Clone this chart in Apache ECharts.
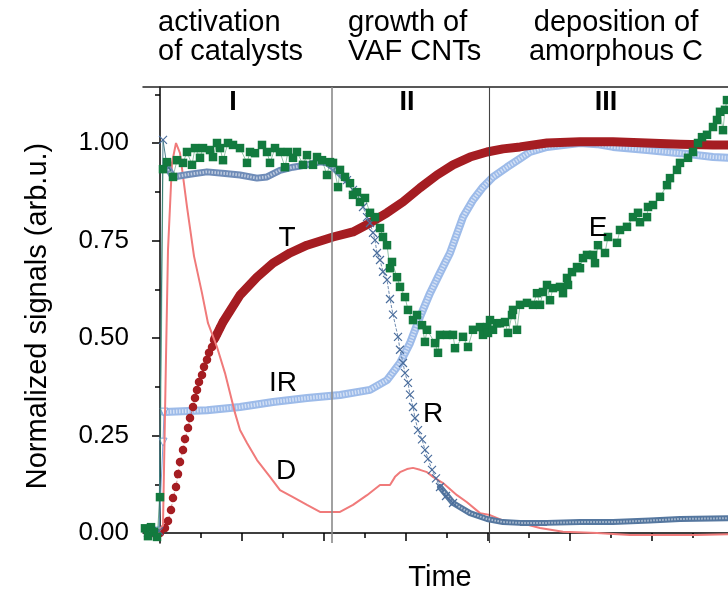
<!DOCTYPE html>
<html>
<head>
<meta charset="utf-8">
<script src="https://cdn.jsdelivr.net/npm/echarts@6/dist/echarts.min.js"></script>
<style>html,body{margin:0;padding:0;background:#fff}#c{width:728px;height:592px}</style>
</head>
<body>
<div id="c"></div>
<script>
// time in arbitrary units (no tick labels on the reference), normalized signals
// T (temperature) - early separated dots
var tDotsTime = [-8,-4,0,5,8,11,13,16,18,20,23,25,28,30,33,35,37,39,42,44,47,49,52,54,57,60,63];
var tDotsVal  = [0,0,0,.013,.031,.059,.09,.118,.151,.182,.213,.241,.269,.295,.323,.346,.367,.387,.405,.426,.444,.462,.477,.495,.51,.526,.541];
// T dense part
var tBandTime = [55,63,80,97,113,130,147,173,193,210,227,243,260,277,293,310,327,343,360,387,420,453,487,520,553,568];
var tBandVal  = [.5,.541,.61,.656,.692,.718,.738,.759,.772,.795,.821,.849,.885,.918,.944,.964,.977,.985,.99,1.0,1.003,1.003,1.0,.997,.995,.995];
// IR
var irStartTime = [-5,-1,3,4];
var irStartVal  = [0,.005,.233,.31];
var irTime = [4,47,80,113,147,180,210,227,240,250,260,270,280,290,303,313,323,333,347,360,370,387,420,437,453,487,520,553,568];
var irVal  = [.31,.315,.323,.336,.346,.354,.367,.392,.436,.487,.554,.615,.667,.718,.81,.854,.887,.913,.938,.96,.977,.99,1.0,.997,.99,.982,.974,.964,.962];
// R
var rStartTime = [-12,-8,-5,-1,3,7];
var rStartVal  = [0,0,0,.005,1.008,.94];
var rPlatTime = [7,13,30,47,65,80,97,107,120,133,147,160,167,173,187];
var rPlatVal  = [.94,.913,.92,.926,.922,.918,.91,.913,.93,.938,.944,.952,.949,.938,.905];
var rDropTime = [187,193,197,200,203,207,210,213,215,217,220,223,227,230,233,238,240,243,245,248,250,253,255,258,262,265,268,272,276,280,286,293];
var rDropVal  = [.905,.88,.872,.85,.836,.81,.795,.77,.751,.718,.7,.67,.649,.6,.56,.503,.47,.436,.41,.385,.355,.323,.295,.264,.24,.213,.19,.162,.14,.118,.095,.077];
var rTailTime = [280,293,310,327,343,360,387,420,453,490,520,568];
var rTailVal  = [.118,.077,.051,.036,.028,.026,.026,.028,.028,.032,.036,.038];
// E
var eTime = [-15,-12,-9,-6,-3,0,3,7,13,17,23,27,32,35,40,43,50,53,57,60,63,68,73,80,87,90,95,102,107,110,115,120,125,128,133,137,143,147,153,157,162,167,170,173,178,180,185,190,193,197,200,205,210,215,220,223,227,230,232,237,240,245,248,253,257,262,265,267,275,278,280,287,293,295,303,308,313,320,323,327,328,330,333,337,340,345,348,352,353,357,360,367,373,377,380,383,387,390,393,400,403,407,408,412,417,420,423,427,433,435,438,445,448,457,460,467,473,478,480,487,488,493,500,507,510,517,520,528,533,538,542,547,553,557,560,563,565,567];
var eVal  = [.012,-.008,.015,.003,-.01,.092,.933,.951,.913,.956,.949,.977,.944,.987,.962,.987,.982,.964,1.0,.987,.956,1.0,.995,.987,.949,.977,.974,.995,.977,.949,.987,.977,.938,.977,.962,.977,.944,.969,.944,.964,.956,.918,.951,.949,.887,.931,.913,.897,.867,.874,.849,.859,.821,.81,.782,.759,.738,.679,.695,.656,.631,.605,.572,.546,.559,.533,.49,.521,.487,.462,.508,.508,.508,.474,.503,.477,.521,.528,.508,.528,.513,.546,.521,.538,.538,.541,.513,.559,.572,.521,.585,.59,.585,.615,.585,.618,.636,.597,.628,.631,.615,.654,.636,.669,.682,.679,.705,.713,.713,.692,.738,.718,.759,.744,.777,.785,.81,.821,.797,.81,.836,.841,.862,.892,.91,.931,.949,.962,.977,1.0,1.015,1.021,1.041,1.059,1.08,1.033,1.085,1.11];
// D
var dTime = [-2,3,6,8,12,16,20,27,34,42,48,57,65,70,75,80,87,97,110,120,133,147,160,180,193,207,220,230,235,240,247,253,260,267,273,283,297,307,320,330,347,360,380,403,437,470,503,537,568];
var dVal  = [0,.02,.45,.726,.949,1.0,.974,.836,.71,.615,.538,.477,.41,.359,.308,.264,.231,.187,.144,.11,.092,.072,.054,.054,.072,.097,.123,.123,.144,.156,.164,.167,.162,.156,.144,.128,.097,.079,.051,.046,.028,.026,.013,.003,0,-.005,-.005,-.005,-.003];
// stage boundaries
var stageBounds = [172, 329];
var yMajor = [0, 0.25, 0.5, 0.75, 1.0];
var yMinor = [0.125, 0.375, 0.625, 0.875, 1.125];
var xMajor = [0, 82, 164, 246, 328, 410, 492];
var xMinor = [41, 123, 205, 287, 369, 451, 533];

function zip(a, b) { return a.map(function (v, i) { return [v, b[i]]; }); }

var FONT = '"Liberation Sans", Arial, sans-serif';
var chart = echarts.init(document.getElementById('c'), null, {renderer: 'canvas'});
var xMin = -17, xMax = 568, yMin = -0.0256, yMax = 1.1436;
var crossPath = 'path://M0,0L10,10M10,0L0,10';

function txt(t, x, y, size, opts) {
  opts = opts || {};
  return {
    type: 'text', x: x, y: y, rotation: opts.rot || 0, z: 100,
    style: {
      text: t, fill: '#000', align: opts.align || 'center', verticalAlign: 'middle',
      font: (opts.bold ? 'bold ' : '') + size + 'px ' + FONT
    }
  };
}
function band(name, data, color, width, z) {
  return {name: name, type: 'line', data: data, showSymbol: false, silent: true,
          lineStyle: {color: color, width: width, cap: 'round', join: 'round'}, z: z};
}
function hatch(name, data, width, z) {
  return {name: name, type: 'line', data: data, showSymbol: false, silent: true,
          lineStyle: {color: 'rgba(255,255,255,0.55)', width: width, type: [1.5, 1.5]}, z: z};
}

var irData = zip(irTime, irVal);
var rPlat = zip(rPlatTime, rPlatVal);
var rTail = zip(rTailTime, rTailVal);

var option = {
  animation: false,
  backgroundColor: '#fff',
  grid: {left: 143, top: 87, right: 0, bottom: 49, containLabel: false},
  xAxis: [
    {type: 'value', position: 'bottom', min: xMin, max: xMax,
     axisLine: {show: true, lineStyle: {color: '#000', width: 1.5}},
     axisTick: {show: true, customValues: xMajor, length: 8, lineStyle: {color: '#000', width: 1.5}},
     axisLabel: {show: false}, splitLine: {show: false}},
    {type: 'value', position: 'bottom', min: xMin, max: xMax,
     axisLine: {show: false},
     axisTick: {show: true, customValues: xMinor, length: 5, lineStyle: {color: '#000', width: 1.5}},
     axisLabel: {show: false}, splitLine: {show: false}},
    {type: 'value', position: 'top', min: xMin, max: xMax,
     axisLine: {show: true, lineStyle: {color: '#222', width: 1.5}},
     axisTick: {show: false}, axisLabel: {show: false}, splitLine: {show: false}}
  ],
  yAxis: [
    {type: 'value', position: 'left', min: yMin, max: yMax,
     axisLine: {show: true, lineStyle: {color: '#000', width: 1.5}},
     axisTick: {show: true, customValues: yMajor, length: 8, lineStyle: {color: '#000', width: 1.5}},
     axisLabel: {show: true, customValues: yMajor, margin: 14, color: '#000',
                 fontSize: 26, fontFamily: FONT,
                 formatter: function (v) { return v.toFixed(2); }},
     splitLine: {show: false}},
    {type: 'value', position: 'left', min: yMin, max: yMax,
     axisLine: {show: false},
     axisTick: {show: true, customValues: yMinor, length: 5, lineStyle: {color: '#000', width: 1.5}},
     axisLabel: {show: false}, splitLine: {show: false}}
  ],
  series: [
    {name: 'IR', type: 'line', data: irData, showSymbol: false,
     lineStyle: {color: '#9dbbe9', width: 8, cap: 'round', join: 'round'}, z: 2,
     markLine: {silent: true, symbol: 'none', label: {show: false},
       data: [
         {xAxis: stageBounds[0], lineStyle: {color: '#8a8a8a', width: 1.6, type: 'solid'}},
         {xAxis: stageBounds[1], lineStyle: {color: '#444', width: 1.1, type: 'solid'}}
       ]}},
    hatch('IR hatch', irData, 4, 2),
    {name: 'IR start', type: 'line', data: zip(irStartTime, irStartVal), showAllSymbol: true,
     symbol: 'triangle', symbolRotate: 180, symbolSize: 8,
     itemStyle: {color: '#fff', borderColor: '#7ba6dd', borderWidth: 1},
     lineStyle: {color: '#7ba6dd', width: 1}, z: 2},
    band('T', zip(tBandTime, tBandVal), '#a51d22', 9, 3),
    {name: 'T dots', type: 'line', data: zip(tDotsTime, tDotsVal), showAllSymbol: true,
     symbol: 'circle', symbolSize: 8.5, itemStyle: {color: '#a51d22'},
     lineStyle: {color: 'rgba(165,29,34,0.5)', width: 1, type: 'dashed'}, z: 3},
    {name: 'D', type: 'line', data: zip(dTime, dVal), showSymbol: false,
     lineStyle: {color: '#f07a7a', width: 2}, z: 4},
    band('R', rPlat, '#6f8cb8', 7, 5),
    hatch('R hatch', rPlat, 3, 5),
    band('R tail', rTail, '#55779f', 6, 5),
    hatch('R tail hatch', rTail, 2, 5),
    {name: 'R drop', type: 'line', data: zip(rDropTime, rDropVal), showAllSymbol: true,
     symbol: crossPath, symbolSize: 8,
     itemStyle: {color: 'rgba(0,0,0,0)', borderColor: '#4a6d9c', borderWidth: 1.2},
     lineStyle: {color: '#4a6d9c', width: 0.8, type: 'dashed'}, z: 5},
    {name: 'R start', type: 'line', data: zip(rStartTime, rStartVal), showAllSymbol: true,
     symbol: crossPath, symbolSize: 8,
     itemStyle: {color: 'rgba(0,0,0,0)', borderColor: '#4a6d9c', borderWidth: 1.2},
     lineStyle: {color: '#4a7f8c', width: 1}, z: 5},
    {name: 'E', type: 'line', data: zip(eTime, eVal), showAllSymbol: true,
     symbol: 'rect', symbolSize: 8.5, itemStyle: {color: '#127a3e'},
     lineStyle: {color: 'rgba(18,122,62,0.45)', width: 1}, z: 6}
  ],
  graphic: [
    txt('activation', 158, 23, 29, {align: 'left'}),
    txt('of catalysts', 158, 52, 29, {align: 'left'}),
    txt('growth of', 348, 23, 29, {align: 'left'}),
    txt('VAF CNTs', 348, 52, 29, {align: 'left'}),
    txt('deposition of', 616, 23, 29),
    txt('amorphous C', 616, 52, 29),
    txt('I', 233, 103, 27, {bold: true}),
    txt('II', 407, 103, 27, {bold: true}),
    txt('III', 606, 103, 27, {bold: true}),
    txt('T', 287, 238, 28),
    txt('IR', 283, 383, 28),
    txt('D', 286, 471, 28),
    txt('R', 433, 414, 28),
    txt('E', 598, 228, 28),
    txt('Time', 440, 578, 29),
    txt('Normalized signals (arb.u.)', 38, 316, 29, {rot: Math.PI / 2})
  ]
};
chart.setOption(option);
</script>
</body>
</html>
